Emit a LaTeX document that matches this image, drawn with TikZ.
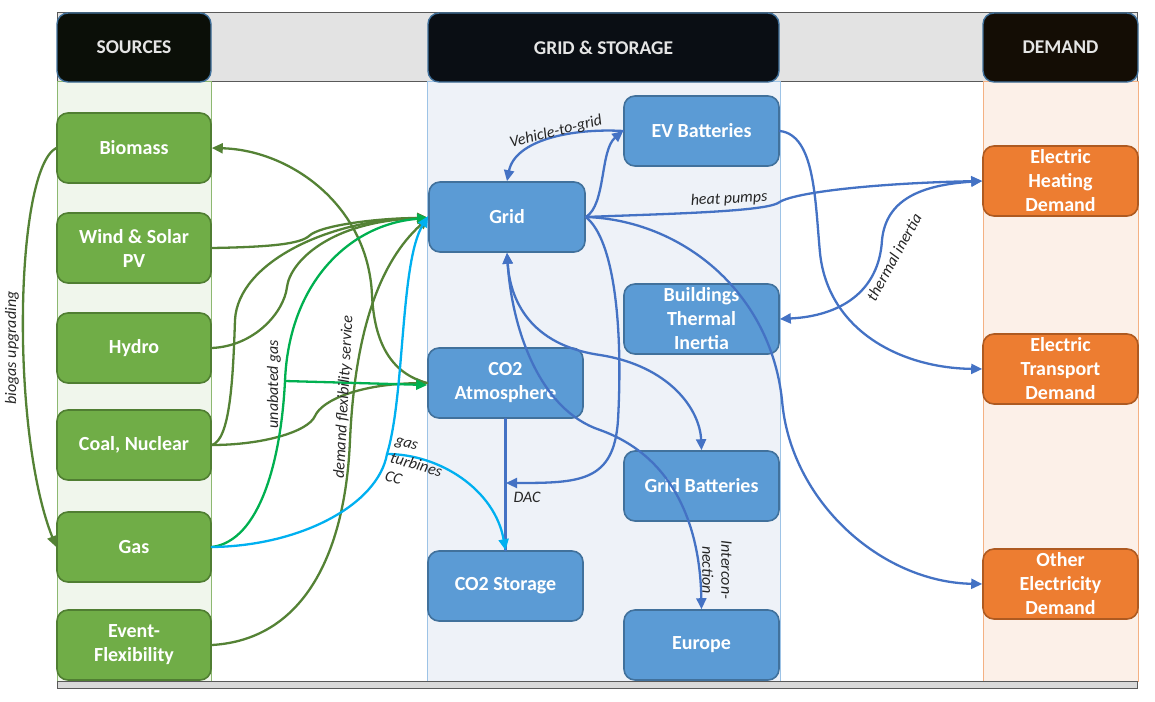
\documentclass[tikz,border=0pt]{standalone}
\usepackage{fontspec}
\setmainfont{Carlito}
\usetikzlibrary{arrows.meta}
\definecolor{cgreen}{HTML}{70AD47}
\definecolor{cgreenD}{HTML}{507E32}
\definecolor{cblue}{HTML}{5B9BD5}
\definecolor{cblueD}{HTML}{41719C}
\definecolor{corange}{HTML}{ED7D31}
\definecolor{corangeD}{HTML}{AE5A21}
\definecolor{lgreen}{HTML}{548235}
\definecolor{bgreen}{HTML}{00B050}
\definecolor{lcyan}{HTML}{00B0F0}
\definecolor{lblue}{HTML}{4472C4}
\definecolor{colG}{HTML}{F0F6EC}
\definecolor{colGb}{HTML}{8DB871}
\definecolor{colB}{HTML}{EEF2F8}
\definecolor{colBb}{HTML}{9DC3E6}
\definecolor{colO}{HTML}{FCF0E8}
\definecolor{colOb}{HTML}{F4B183}
\definecolor{band}{HTML}{E3E3E3}
\definecolor{clab}{HTML}{262626}
\newcommand\nfnt{\fontsize{20}{24}\selectfont\bfseries}
\newcommand\hfnt{\fontsize{19.5}{24}\selectfont\bfseries}
\newcommand\lfnt{\fontsize{16}{19}\selectfont\itshape}
\begin{document}
\begin{tikzpicture}[x=1pt,y=-1pt,
  box/.style={rectangle, rounded corners=11pt, minimum width=154pt, minimum height=70pt,
    line width=1.6pt, text=white, font=\nfnt, align=center, inner sep=0pt},
  gbox/.style={box, fill=cgreen, draw=cgreenD},
  bbox/.style={box, fill=cblue, draw=cblueD},
  obox/.style={box, fill=corange, draw=corangeD},
  hbox/.style={box, minimum height=69pt, draw=cblueD, line width=1.4pt, text={black!10}, font=\hfnt},
  lab/.style={font=\lfnt, text=clab, inner sep=0pt, align=center},
  con/.style={line width=2.3pt, line cap=round},
  arr/.style={-{Triangle[length=11pt,width=10pt]}},
  darr/.style={{Triangle[length=11pt,width=10pt]}-{Triangle[length=11pt,width=10pt]}},
  gcon/.style={con, draw=lgreen},
  bgcon/.style={con, draw=bgreen},
  ccon/.style={con, draw=lcyan},
  blcon/.style={con, draw=lblue}
]
\useasboundingbox (0,0) rectangle (1155,701);
% header band and frame
\draw[fill=band, draw=black!65, line width=1pt] (57,13) rectangle (1137,81);
% columns
\draw[fill=colG, draw=colGb, line width=0.8pt] (57,81) rectangle (211,681);
\draw[fill=colB, draw=colBb, line width=0.8pt] (427,81) rectangle (780,681);
\draw[fill=colO, draw=colOb, line width=0.8pt] (983,81) rectangle (1138,681);
% bottom bar
\draw[fill=black!15, draw=black!65, line width=1pt] (57,681) rectangle (1137,688);
% headers
\node[hbox, fill={rgb,255:red,11;green,15;blue,8}] (hs) at (134,47.5) {SOURCES};
\node[hbox, fill={rgb,255:red,10;green,14;blue,20}, minimum width=351pt] (hg) at (603.5,47.5) {GRID \& STORAGE};
\node[hbox, fill={rgb,255:red,20;green,13;blue,5}, minimum width=155pt] (hd) at (1060.5,47.5) {DEMAND};
% source nodes
\node[gbox] (bio) at (134,148) {Biomass};
\node[gbox] (wind) at (134,248) {Wind \& Solar\\PV};
\node[gbox] (hydro) at (134,348) {Hydro};
\node[gbox] (coal) at (134,445) {Coal, Nuclear};
\node[gbox] (gas) at (134,547) {Gas};
\node[gbox] (evf) at (134,645) {Event-\\Flexibility};
% grid & storage nodes
\node[bbox, minimum width=156pt] (grid) at (507,217) {Grid};
\node[bbox, minimum width=155pt] (ev) at (701.5,131) {EV Batteries};
\node[bbox, minimum width=155pt] (bti) at (701.5,319) {Buildings\\Thermal\\Inertia};
\node[bbox, minimum width=155pt] (co2a) at (505.5,383) {CO2\\Atmosphere};
\node[bbox, minimum width=155pt] (gb) at (701.5,486) {Grid Batteries};
\node[bbox, minimum width=155pt] (co2s) at (505.5,586) {CO2 Storage};
\node[bbox, minimum width=155pt] (eu) at (701.5,645) {Europe};
% demand nodes
\node[obox, minimum width=155pt] (heat) at (1060.5,181) {Electric\\Heating\\Demand};
\node[obox, minimum width=155pt] (trans) at (1060.5,369) {Electric\\Transport\\Demand};
\node[obox, minimum width=155pt] (other) at (1060.5,584) {Other\\Electricity\\Demand};
% helper coordinates
\coordinate (ub) at (285,381);
\coordinate (gt) at (387,454);
\coordinate (dac) at (506,483);
\coordinate (gw) at ([yshift=-1pt]grid.west);
% ---------- green connectors ----------
\draw[gcon, arr] (bio.west) .. controls (15,170) and (10,430) .. (gas.west);
\draw[gcon, arr] (wind.east) .. controls (270,247) and (300,244) .. (309,236)
   .. controls (320,225) and (380,218) .. (gw);
\draw[gcon, arr] (hydro.east) .. controls (255,346) and (284,312) .. (287,287)
   .. controls (290,262) and (330,221) .. (gw);
\draw[gcon, arr] (coal.east) .. controls (230,440) and (233,380) .. (235,320)
   .. controls (238,262) and (330,219) .. (gw);
\draw[gcon, arr] (coal.east) .. controls (262,445) and (308,432) .. (315,416)
   .. controls (322,400) and (360,384) .. (co2a.west);
\draw[gcon, arr] (co2a.west) .. controls (386,372) and (374,335) .. (372,295)
   .. controls (368,205) and (290,150) .. (bio.east);
\draw[gcon, arr] (evf.east) .. controls (300,640) and (345,560) .. (350,440)
   .. controls (355,330) and (380,262) .. (gw);
% ---------- gas connectors ----------
\draw[bgcon, arr] (gas.east) .. controls (260,541) and (281,460) .. (ub)
   .. controls (289,282) and (350,224) .. (gw);
\draw[bgcon, arr] (ub) -- ([yshift=-2pt]co2a.west);
\draw[ccon, arr] (gas.east) .. controls (300,546) and (378,505) .. (gt)
   .. controls (405,395) and (400,262) .. ([yshift=1pt]grid.west);
% ---------- blue connectors ----------
\draw[blcon] (co2a.south) -- (co2s.north);
\draw[ccon, arr] (gt) .. controls (440,454) and (495,490) .. (co2s.north);
\draw[blcon, arr] (grid.east) .. controls (606,205) and (600,150) .. (ev.west);
\draw[blcon, arr] (ev.west) .. controls (572,128) and (515,140) .. (grid.north);
\draw[blcon, arr] (grid.east) .. controls (660,214) and (762,212) .. (778,203)
   .. controls (792,192) and (880,183) .. (heat.west);
\draw[blcon, darr] (heat.west) .. controls (920,185) and (886,200) .. (882,240)
   .. controls (879,292) and (840,316) .. (bti.east);
\draw[blcon, arr] (ev.east) .. controls (815,135) and (815,200) .. (820,253)
   .. controls (828,330) and (900,368) .. (trans.west);
\draw[blcon, arr] (grid.east) .. controls (680,220) and (770,290) .. (782,400)
   .. controls (790,500) and (880,582) .. (other.west);
\draw[blcon, arr] (grid.east) .. controls (615,240) and (623,330) .. (618,420)
   .. controls (614,482) and (580,483) .. (dac);
\draw[blcon, darr] (grid.south) .. controls (510,300) and (530,345) .. (600,355)
   .. controls (670,366) and (700,410) .. (gb.north);
\draw[blcon, darr] (grid.south) .. controls (512,330) and (540,410) .. (600,430)
   .. controls (670,455) and (700,520) .. (eu.north);
% ---------- labels ----------
\node[lab, rotate=90] (lbio) at (12,348) {biogas upgrading};
\node[lab, rotate=90] (lub) at (274,384) {unabated gas};
\node[lab, rotate=87] (ldf) at (344,397) {demand flexibility service};
\node[lab, rotate=-16, align=left] (lgt) at (416,466) {gas\\turbines\\CC};
\node[lab, rotate=14] (lv2g) at (556,132) {Vehicle-to-grid};
\node[lab, rotate=3] (lhp) at (729,199) {heat pumps};
\node[lab, rotate=61] (lti) at (894,257) {thermal inertia};
\node[lab] (ldac) at (527,497) {DAC};
\node[lab, rotate=-90] (lic) at (717,570) {Intercon-\\nection};
\end{tikzpicture}
\end{document}
